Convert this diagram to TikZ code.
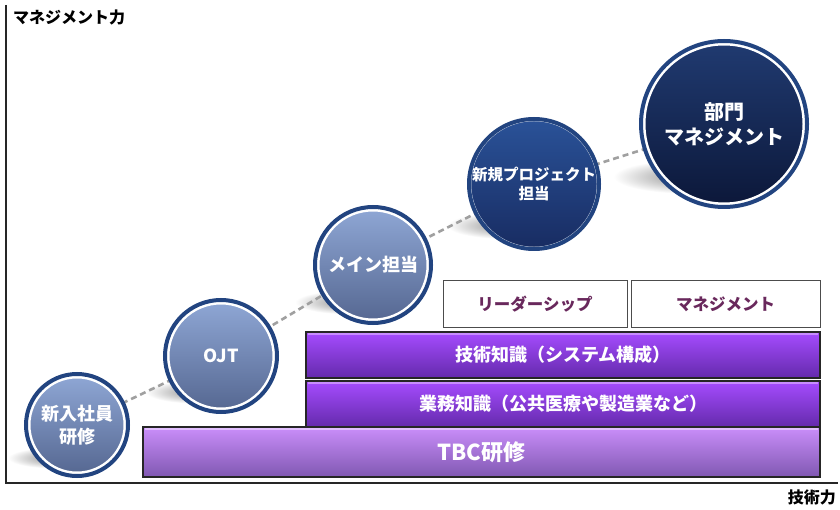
\documentclass[tikz,border=0pt]{standalone}
\usepackage{fontspec}
\setmainfont{Noto Sans CJK JP}
\definecolor{ringblue}{RGB}{34,68,128}
\definecolor{lbtop}{RGB}{142,166,212}
\definecolor{lbbot}{RGB}{86,104,146}
\definecolor{mbtop}{RGB}{42,82,152}
\definecolor{mbbot}{RGB}{24,44,98}
\definecolor{dbtop}{RGB}{32,58,112}
\definecolor{dbbot}{RGB}{12,24,58}
\definecolor{bartop}{RGB}{166,76,255}
\definecolor{barbot}{RGB}{100,42,172}
\definecolor{barhi}{RGB}{200,140,255}
\definecolor{tbctop}{RGB}{202,142,250}
\definecolor{tbcbot}{RGB}{128,88,178}
\definecolor{tbchi}{RGB}{225,190,255}
\definecolor{skilltext}{RGB}{105,40,92}
\definecolor{dashgray}{RGB}{160,160,160}
\newcommand\myshadow[3]{%
  \pgfmathsetmacro\shx{#1-0.4*#3}%
  \pgfmathsetmacro\shy{#2+0.62*#3}%
  \pgfmathsetmacro\shrx{0.9*#3}%
  \pgfmathsetmacro\shry{0.2*#3}%
  \shade[inner color=black!45, outer color=white] (\shx,\shy) ellipse[x radius=\shrx pt, y radius=\shry pt];}
\newcommand\myball[7]{% name, coordinate, r, top, bottom, options, text
  \pgfmathsetmacro\balld{2*(#3-5)}%
  \pgfmathsetmacro\ballr{#3-2}%
  \node[ball, minimum size=\balld pt, top color=#4, bottom color=#5, #6] (#1) at (#2) {#7};
  \draw[ring] (#1.center) circle[radius=\ballr pt];}
\begin{document}
\begin{tikzpicture}[x=1pt,y=-1pt,
  ring/.style={draw=ringblue, line width=4pt},
  ball/.style={circle, inner sep=0pt, outer sep=0pt, draw=white, line width=3pt,
    text=white, align=center},
  dashlink/.style={draw=dashgray, line width=2.6pt, dash pattern=on 6pt off 4pt},
  bar/.style={draw=black!85, line width=1.6pt, text=white, inner sep=0pt},
  skill/.style={draw=black!70, line width=1pt, fill=white, text=skilltext, inner sep=0pt,
    minimum height=47pt, font=\bfseries\fontsize{16.5}{20}\selectfont},
  axislabel/.style={text=black, inner sep=0pt, font=\bfseries\fontsize{16}{20}\selectfont}
]
\useasboundingbox (0,0) rectangle (840,510);
\fill[white] (0,0) rectangle (840,510);
% centres of the circles
\coordinate (p1) at (77,425);
\coordinate (p2) at (221,356);
\coordinate (p3) at (373,265);
\coordinate (p4) at (534,184);
\coordinate (p5) at (724,124);
% shadows
\myshadow{77}{425}{53}
\myshadow{221}{356}{58}
\myshadow{373}{265}{60}
\myshadow{534}{184}{67}
\myshadow{724}{124}{85}
% dashed path
\draw[dashlink] (p1) -- (p2) -- (p3) -- (p4) -- (p5);
% axes
\coordinate (ytop) at (6,5);
\coordinate (origin) at (6,483);
\coordinate (xend) at (838,483);
\draw[line width=2pt, black!85] (ytop) -- (origin) -- (xend);
\node[axislabel, anchor=west] (ylab) at (13,17) {マネジメント力};
\node[axislabel, anchor=east] (xlab) at (836,497) {技術力};
% bars
\node[bar, top color=tbctop, bottom color=tbcbot, minimum width=677pt, minimum height=50pt,
  font=\bfseries\fontsize{22}{26}\selectfont] (tbc) at (481.5,452) {TBC研修};
\draw[tbchi, line width=1.5pt] ([xshift=3pt,yshift=-3pt]tbc.north west) -- ([xshift=-3pt,yshift=-3pt]tbc.north east);
\node[bar, top color=bartop, bottom color=barbot, minimum width=514pt, minimum height=46pt,
  font=\bfseries\fontsize{18}{22}\selectfont] (biz) at (563,404) {業務知識（公共医療や製造業など）};
\draw[barhi, line width=1.5pt] ([xshift=3pt,yshift=-3pt]biz.north west) -- ([xshift=-3pt,yshift=-3pt]biz.north east);
\node[bar, top color=bartop, bottom color=barbot, minimum width=514pt, minimum height=46pt,
  font=\bfseries\fontsize{18}{22}\selectfont] (tech) at (563,355) {技術知識（システム構成）};
\draw[barhi, line width=1.5pt] ([xshift=3pt,yshift=-3pt]tech.north west) -- ([xshift=-3pt,yshift=-3pt]tech.north east);
\node[skill, minimum width=184pt] (lead) at (535,304.5) {リーダーシップ};
\node[skill, minimum width=189pt] (mgmt) at (725.5,304.5) {マネジメント};
% circles
\myball{c1}{p1}{53}{lbtop}{lbbot}{font=\bfseries\fontsize{18}{23}\selectfont}{新入社員\\研修}
\myball{c2}{p2}{58}{lbtop}{lbbot}{font=\bfseries\fontsize{18}{22}\selectfont}{OJT}
\myball{c3}{p3}{60}{lbtop}{lbbot}{font=\bfseries\fontsize{18}{22}\selectfont}{メイン担当}
\myball{c4}{p4}{67}{mbtop}{mbbot}{font=\bfseries\fontsize{15.5}{19}\selectfont}{新規プロジェクト\\担当}
\myball{c5}{p5}{85}{dbtop}{dbbot}{font=\bfseries\fontsize{20}{25}\selectfont}{部門\\マネジメント}
\end{tikzpicture}
\end{document}
